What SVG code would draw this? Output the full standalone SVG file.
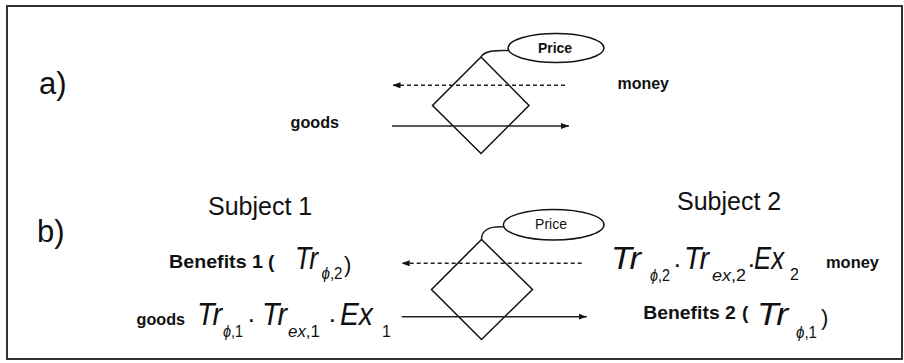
<svg xmlns="http://www.w3.org/2000/svg" width="904" height="363" viewBox="0 0 904 363">
<style>
text{font-family:"Liberation Sans",Arial,Helvetica,sans-serif;fill:#111}
.b{font-weight:bold}
.lbl{font-size:31px}
.subj{font-size:25px}
.m{font-style:italic;font-size:32px}
.s{font-style:italic;font-size:16px}
.d{font-size:16px}
.dot{font-size:26px}
.par{font-size:22px}
.shape{fill:none;stroke:#111;stroke-width:1.5}
.ln{fill:none;stroke:#222;stroke-width:1.5}
.dash{stroke-dasharray:4 3}
</style>
<defs>
<marker id="ah" viewBox="0 0 8 6" refX="8" refY="3" markerWidth="8" markerHeight="6" markerUnits="userSpaceOnUse" orient="auto">
<path d="M0,0 L8,3 L0,6 z" fill="#111"/>
</marker>
</defs>
<rect id="frame" x="7" y="6" width="895" height="353" fill="#fff" stroke="#333" stroke-width="2"/>

<g id="panel-a-label"><text class="lbl" x="39" y="94">a)</text></g>
<g id="diamond-a"><polygon class="shape" points="481,57 529,105.5 481,153.5 432.5,105.5"/></g>
<g id="price-a"><ellipse class="shape" cx="556" cy="48" rx="48" ry="14.5"/><text class="b" x="555" y="52.5" font-size="14" text-anchor="middle">Price</text></g>
<g id="money-a"><text class="b" x="617.5" y="89" font-size="17" textLength="51.5" lengthAdjust="spacingAndGlyphs">money</text></g>
<g id="goods-a"><text class="b" x="290.5" y="127.5" font-size="16" textLength="48.5" lengthAdjust="spacingAndGlyphs">goods</text></g>

<g id="panel-b-label"><text class="lbl" x="37" y="242">b)</text></g>
<g id="subject-1"><text class="subj" x="208" y="214.5">Subject 1</text></g>
<g id="subject-2"><text class="subj" x="677" y="209.5">Subject 2</text></g>
<g id="diamond-b"><polygon class="shape" points="481.5,239.5 532.5,289.5 481.5,339.5 431.5,289.5"/></g>
<g id="price-b"><ellipse class="shape" cx="553.7" cy="224.7" rx="50.3" ry="15.3"/><text x="551" y="228.8" font-size="14" text-anchor="middle">Price</text></g>

<g id="benefits-1">
<text class="b" x="169" y="268" font-size="19" textLength="94" lengthAdjust="spacingAndGlyphs">Benefits 1</text>
<text class="b" x="268" y="268" font-size="19">(</text>
<text class="m" x="295" y="269" textLength="23" lengthAdjust="spacingAndGlyphs">Tr</text>
<text class="s" x="321.5" y="279" textLength="21" lengthAdjust="spacingAndGlyphs">ϕ<tspan font-style="normal">,2</tspan></text>
<text class="par" x="344" y="272">)</text>
</g>
<g id="goods-b">
<text class="b" x="136.5" y="325" font-size="16" textLength="48.5" lengthAdjust="spacingAndGlyphs">goods</text>
<text class="m" x="197" y="325" textLength="25" lengthAdjust="spacingAndGlyphs">Tr</text>
<text class="s" x="223" y="336.5" textLength="20" lengthAdjust="spacingAndGlyphs">ϕ<tspan font-style="normal">,1</tspan></text>
<text class="dot" x="247" y="328">·</text>
<text class="m" x="262" y="325" textLength="25" lengthAdjust="spacingAndGlyphs">Tr</text>
<text class="s" x="288" y="336.5" textLength="32" lengthAdjust="spacingAndGlyphs">ex<tspan font-style="normal">,1</tspan></text>
<text class="dot" x="328" y="328">·</text>
<text class="m" x="340" y="325" textLength="33" lengthAdjust="spacingAndGlyphs">Ex</text>
<text class="d" x="382" y="336.5">1</text>
</g>
<g id="money-b">
<text class="m" x="611" y="269" textLength="30" lengthAdjust="spacingAndGlyphs">Tr</text>
<text class="s" x="650" y="281" textLength="20" lengthAdjust="spacingAndGlyphs">ϕ<tspan font-style="normal">,2</tspan></text>
<text class="dot" x="673" y="272.5">·</text>
<text class="m" x="684" y="269" textLength="25" lengthAdjust="spacingAndGlyphs">Tr</text>
<text class="s" x="712" y="281" textLength="34" lengthAdjust="spacingAndGlyphs">ex<tspan font-style="normal">,2</tspan></text>
<text class="dot" x="747" y="272.5">·</text>
<text class="m" x="754" y="269" textLength="30" lengthAdjust="spacingAndGlyphs">Ex</text>
<text class="d" x="790" y="280">2</text>
<text class="b" x="826" y="267.5" font-size="16.5" textLength="53" lengthAdjust="spacingAndGlyphs">money</text>
</g>
<g id="benefits-2">
<text class="b" x="643.3" y="319.3" font-size="19" textLength="92.5" lengthAdjust="spacingAndGlyphs">Benefits 2</text>
<text class="b" x="742" y="319.3" font-size="19">(</text>
<text class="m" x="757" y="325" textLength="31" lengthAdjust="spacingAndGlyphs">Tr</text>
<text class="s" x="796" y="337.5" textLength="21" lengthAdjust="spacingAndGlyphs">ϕ<tspan font-style="normal">,1</tspan></text>
<text class="par" x="821" y="325">)</text>
</g>

<g id="connectors">
<line class="ln dash" x1="565" y1="85.3" x2="392.5" y2="85.3" marker-end="url(#ah)"/>
<line class="ln" x1="392" y1="126" x2="569" y2="126" stroke-width="2" stroke="#444" marker-end="url(#ah)"/>
<path class="ln" d="M508,50.5 C494,50 484,51 481,57"/>
<line class="ln dash" x1="581.7" y1="263.3" x2="401.7" y2="263.3" marker-end="url(#ah)"/>
<line class="ln" x1="401.7" y1="316.7" x2="586.7" y2="316.7" marker-end="url(#ah)"/>
<path class="ln" d="M503.5,227 C490,226 481,230 481.5,239.5"/>
</g>
</svg>
